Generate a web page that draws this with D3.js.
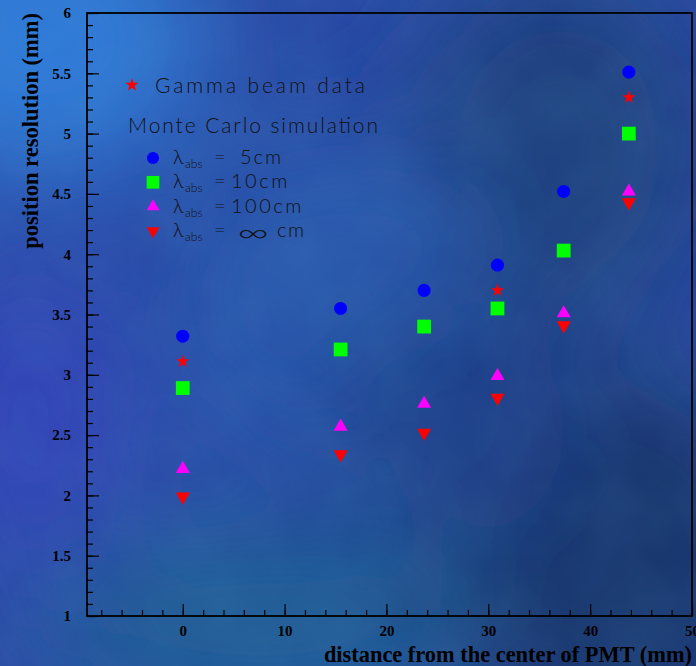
<!DOCTYPE html>
<html>
<head>
<meta charset="utf-8">
<script src="https://cdn.jsdelivr.net/npm/d3@7"></script>
<style>
  html, body { margin: 0; padding: 0; background: #2848a8; }
  svg { display: block; }
</style>
</head>
<body>
<div id="chart"></div>
<script>
// distances from PMT centre (mm)
const distMC = [0, 15.5, 23.7, 30.9, 37.4, 43.8];
const res5cm = [3.32, 3.55, 3.70, 3.91, 4.52, 5.51];
const res10cm = [2.89, 3.21, 3.40, 3.55, 4.03, 5.00];
const res100cm = [2.22, 2.57, 2.76, 2.99, 3.51, 4.52];
const resInf = [1.99, 2.34, 2.52, 2.81, 3.41, 4.43];
const distBeam = [0, 30.9, 43.8];
const resBeam = [3.11, 3.70, 5.30];

const xTicks = [0, 10, 20, 30, 40, 50];
const yTicks = [1, 1.5, 2, 2.5, 3, 3.5, 4, 4.5, 5, 5.5, 6];

const W = 696, H = 666;
const margin = { top: 13, right: 4, bottom: 50, left: 87 };
const serif = 'Liberation Serif, Times New Roman, serif';

const svg = d3.select('#chart').append('svg')
  .attr('width', W)
  .attr('height', H);

// mottled blue background
const defs = svg.append('defs');
const blur = defs.append('filter').attr('id', 'blur')
  .attr('x', '-50%').attr('y', '-50%').attr('width', '200%').attr('height', '200%');
blur.append('feGaussianBlur').attr('stdDeviation', 55);

const noise = defs.append('filter').attr('id', 'noise');
noise.append('feTurbulence').attr('type', 'fractalNoise')
  .attr('baseFrequency', 0.012).attr('numOctaves', 3).attr('seed', 4);
noise.append('feColorMatrix').attr('type', 'matrix')
  .attr('values', '0 0 0 0 0.1  0 0 0 0 0.35  0 0 0 0 0.6  0 0 0 0.35 0');

svg.append('rect').attr('width', W).attr('height', H).attr('fill', '#2746a4');

const blobs = svg.append('g').attr('filter', 'url(#blur)');
[
  { cx: 40, cy: 40, rx: 160, ry: 140, c: '#2f7ad8' },
  { cx: 30, cy: 420, rx: 90, ry: 160, c: '#3140b8' },
  { cx: 260, cy: 620, rx: 220, ry: 90, c: '#1f5b92' },
  { cx: 620, cy: 560, rx: 180, ry: 200, c: '#16336a' },
  { cx: 560, cy: 150, rx: 150, ry: 180, c: '#1c3e7c' },
  { cx: 330, cy: 300, rx: 160, ry: 160, c: '#2654ac' },
  { cx: 450, cy: 420, rx: 120, ry: 120, c: '#1e3e88' }
].forEach(b => {
  blobs.append('ellipse').attr('cx', b.cx).attr('cy', b.cy)
    .attr('rx', b.rx).attr('ry', b.ry).attr('fill', b.c);
});
svg.append('rect').attr('width', W).attr('height', H)
  .attr('filter', 'url(#noise)').attr('opacity', 0.5);

const x = d3.scaleLinear().domain([-9.4, 50]).range([margin.left, W - margin.right]);
const y = d3.scaleLinear().domain([1, 6]).range([H - margin.bottom, margin.top]);

// minor ticks
svg.append('g')
  .attr('transform', `translate(${margin.left},0)`)
  .call(d3.axisLeft(y).tickValues(d3.range(1, 6.001, 0.1)).tickSize(-6).tickFormat(''))
  .call(g => g.select('.domain').remove())
  .selectAll('line').attr('stroke', '#000').attr('stroke-width', 1.2);

svg.append('g')
  .attr('transform', `translate(0,${H - margin.bottom})`)
  .call(d3.axisBottom(x).tickValues(d3.range(-8, 50.001, 2)).tickSize(-6).tickFormat(''))
  .call(g => g.select('.domain').remove())
  .selectAll('line').attr('stroke', '#000').attr('stroke-width', 1.2);

// major ticks with labels
const yAxis = svg.append('g')
  .attr('transform', `translate(${margin.left},0)`)
  .call(d3.axisLeft(y).tickValues(yTicks).tickSize(-12).tickPadding(16).tickFormat(d3.format('')))
  .call(g => g.select('.domain').remove());
yAxis.selectAll('line').attr('stroke', '#000').attr('stroke-width', 1.2);
yAxis.selectAll('text')
  .attr('fill', '#000')
  .attr('font-family', serif)
  .attr('font-weight', 'bold')
  .attr('font-size', '15px');

const xAxis = svg.append('g')
  .attr('transform', `translate(0,${H - margin.bottom})`)
  .call(d3.axisBottom(x).tickValues(xTicks).tickSize(-12).tickPadding(9))
  .call(g => g.select('.domain').remove());
xAxis.selectAll('line').attr('stroke', '#000').attr('stroke-width', 1.2);
xAxis.selectAll('text')
  .attr('fill', '#000')
  .attr('font-family', serif)
  .attr('font-weight', 'bold')
  .attr('font-size', '15px');

// frame
svg.append('rect')
  .attr('x', margin.left).attr('y', margin.top)
  .attr('width', W - margin.right - margin.left)
  .attr('height', H - margin.bottom - margin.top)
  .attr('fill', 'none').attr('stroke', '#000').attr('stroke-width', 1.8);

// axis titles
svg.append('text')
  .attr('transform', `translate(38,${margin.top}) rotate(-90)`)
  .attr('text-anchor', 'end')
  .attr('font-family', serif)
  .attr('font-weight', 'bold')
  .attr('font-size', '22.5px')
  .attr('fill', '#000')
  .text('position resolution (mm)');

svg.append('text')
  .attr('x', W - margin.right).attr('y', 662)
  .attr('text-anchor', 'end')
  .attr('font-family', serif)
  .attr('font-weight', 'bold')
  .attr('font-size', '22.4px')
  .attr('fill', '#000')
  .text('distance from the center of PMT (mm)');

// series
const series = [
  { vals: res5cm, type: d3.symbolCircle, size: 135, color: '#0000ff', rot: 0 },
  { vals: res10cm, type: d3.symbolSquare, size: 190, color: '#00ff00', rot: 0 },
  { vals: res100cm, type: d3.symbolTriangle, size: 85, color: '#ff00ff', rot: 0 },
  { vals: resInf, type: d3.symbolTriangle, size: 85, color: '#ff0000', rot: 180 }
];

series.forEach(s => {
  svg.append('g').selectAll('path')
    .data(s.vals.map((v, i) => ({ d: distMC[i], v })))
    .join('path')
    .attr('transform', p => `translate(${x(p.d)},${y(p.v)}) rotate(${s.rot})`)
    .attr('d', d3.symbol().type(s.type).size(s.size))
    .attr('fill', s.color);
});

const star = d3.symbol().type(d3.symbolStar).size(55);
svg.append('g').selectAll('path')
  .data(resBeam.map((v, i) => ({ d: distBeam[i], v })))
  .join('path')
  .attr('transform', p => `translate(${x(p.d)},${y(p.v)})`)
  .attr('d', star)
  .attr('fill', '#ff0000');

// legend
const legend = svg.append('g')
  .attr('font-family', 'Lato, Open Sans, DejaVu Sans, sans-serif')
  .attr('font-weight', 300)
  .attr('fill', '#111');

legend.append('path')
  .attr('transform', 'translate(132,85)')
  .attr('d', star)
  .attr('fill', '#ff0000');
legend.append('text')
  .attr('x', 155).attr('y', 93)
  .attr('font-size', '21px')
  .attr('textLength', 210).attr('lengthAdjust', 'spacing')
  .text('Gamma beam data');
legend.append('text')
  .attr('x', 128).attr('y', 133)
  .attr('font-size', '21px')
  .attr('textLength', 250).attr('lengthAdjust', 'spacing')
  .text('Monte Carlo simulation');

const legendRows = [
  { s: series[0], value: '5cm', vx: 240, ls: 2 },
  { s: series[1], value: '10cm', vx: 231, ls: 2.5 },
  { s: series[2], value: '100cm', vx: 231, ls: 2.5 },
  { s: series[3], value: 'cm', vx: 277, ls: 1.5, inf: true }
];
legendRows.forEach((r, i) => {
  const cy = 158 + i * 24.3;
  legend.append('path')
    .attr('transform', `translate(153,${cy}) rotate(${r.s.rot})`)
    .attr('d', d3.symbol().type(r.s.type).size(r.s.size * 0.85))
    .attr('fill', r.s.color);
  const base = cy + 6;
  const t = legend.append('text').attr('y', base).attr('font-size', '20px');
  t.append('tspan').attr('x', 173).attr('y', base).text('\u03BB');
  t.append('tspan').attr('x', 185).attr('y', base + 4).attr('font-size', '12px').text('abs');
  t.append('tspan').attr('x', 214).attr('y', base).attr('letter-spacing', '0px').text('=');
  t.append('tspan').attr('x', r.vx).attr('y', base)
    .attr('letter-spacing', `${r.ls}px`).text(r.value);
  if (r.inf) {
    legend.append('text')
      .attr('transform', `translate(237,${base + 5}) scale(3.1,1.9)`)
      .attr('font-size', '14px')
      .text('\u221E');
  }
});
</script>
</body>
</html>
